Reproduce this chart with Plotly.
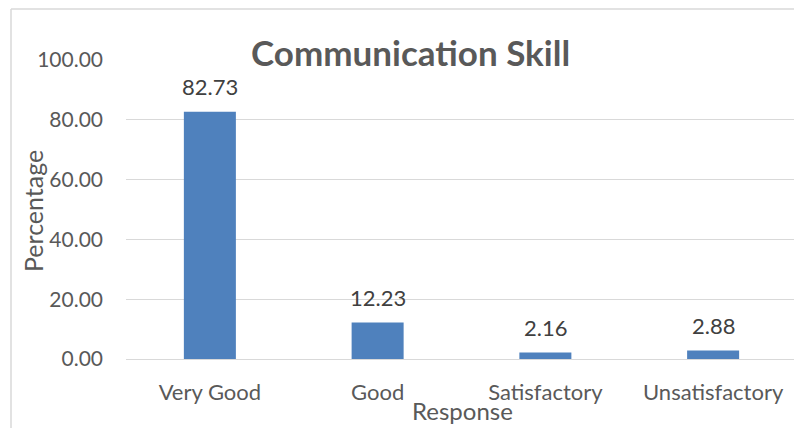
import plotly.graph_objects as go

categories = ["Very Good", "Good", "Satisfactory", "Unsatisfactory"]
values = [82.73, 12.23, 2.16, 2.88]
tick_vals = [0, 20, 40, 60, 80, 100]

FONT = "Lato, 'Open Sans', sans-serif"
GRAY = "#595959"
OFF = 8  # default page body margin
W, H = 802 - OFF, 428 - OFF
L, T = 126 - OFF, 60 - OFF
PR, PB = 797 - OFF, 359 - OFF
R, B = W - PR, H - PB
PW, PH = PR - L, PB - T

def px(x):
    return (x - OFF - L) / PW

def py(y):
    return (PB - (y - OFF)) / PH

fig = go.Figure(go.Bar(
    x=categories, y=values,
    marker=dict(color="#4f81bd", line=dict(width=0)),
    width=0.31,
    hoverinfo="x+y",
))

for c, v in zip(categories, values):
    fig.add_annotation(x=c, y=v, text=f"{v:.2f}", showarrow=False,
                       yanchor="middle", yshift=25,
                       font=dict(size=22, color="#404040", family=FONT))

fig.update_layout(
    width=W, height=H,
    margin=dict(l=L, r=R, t=T, b=B, autoexpand=False),
    paper_bgcolor="white", plot_bgcolor="white",
    showlegend=False,
    font=dict(family=FONT, color=GRAY),
)
fig.update_yaxes(
    range=[0, 100], tickvals=tick_vals, tickformat=".2f",
    showgrid=True, gridcolor="#d9d9d9", gridwidth=1,
    zeroline=True, zerolinecolor="#d9d9d9", zerolinewidth=1,
    showline=False, ticks="", automargin=False,
    tickfont=dict(size=21, color=GRAY, family=FONT),
    ticklabelstandoff=22,
)
fig.update_xaxes(
    showgrid=False, showline=False, ticks="", automargin=False,
    tickfont=dict(size=22, color=GRAY, family=FONT),
    ticklabelstandoff=18,
)
# chart title and axis titles
fig.add_annotation(text="<b>Communication Skill</b>", xref="paper", yref="paper",
                   x=px(410), y=py(52), xanchor="center", yanchor="middle",
                   showarrow=False, font=dict(size=35, color=GRAY, family=FONT))
fig.add_annotation(text="Percentage", xref="paper", yref="paper",
                   x=px(33), y=py(211), xanchor="center", yanchor="middle",
                   textangle=-90, showarrow=False,
                   font=dict(size=25, color=GRAY, family=FONT))
fig.add_annotation(text="Response", xref="paper", yref="paper",
                   x=px(462), y=py(411), xanchor="center", yanchor="middle",
                   showarrow=False, font=dict(size=24, color=GRAY, family=FONT))
# chart border (left and top edges visible)
fig.add_shape(type="line", xref="paper", yref="paper",
              x0=px(11), x1=px(804), y0=py(9), y1=py(9),
              line=dict(color="#d9d9d9", width=1.5))
fig.add_shape(type="line", xref="paper", yref="paper",
              x0=px(11), x1=px(11), y0=py(9), y1=py(430),
              line=dict(color="#d9d9d9", width=1.5))

fig.write_html("out.html")
